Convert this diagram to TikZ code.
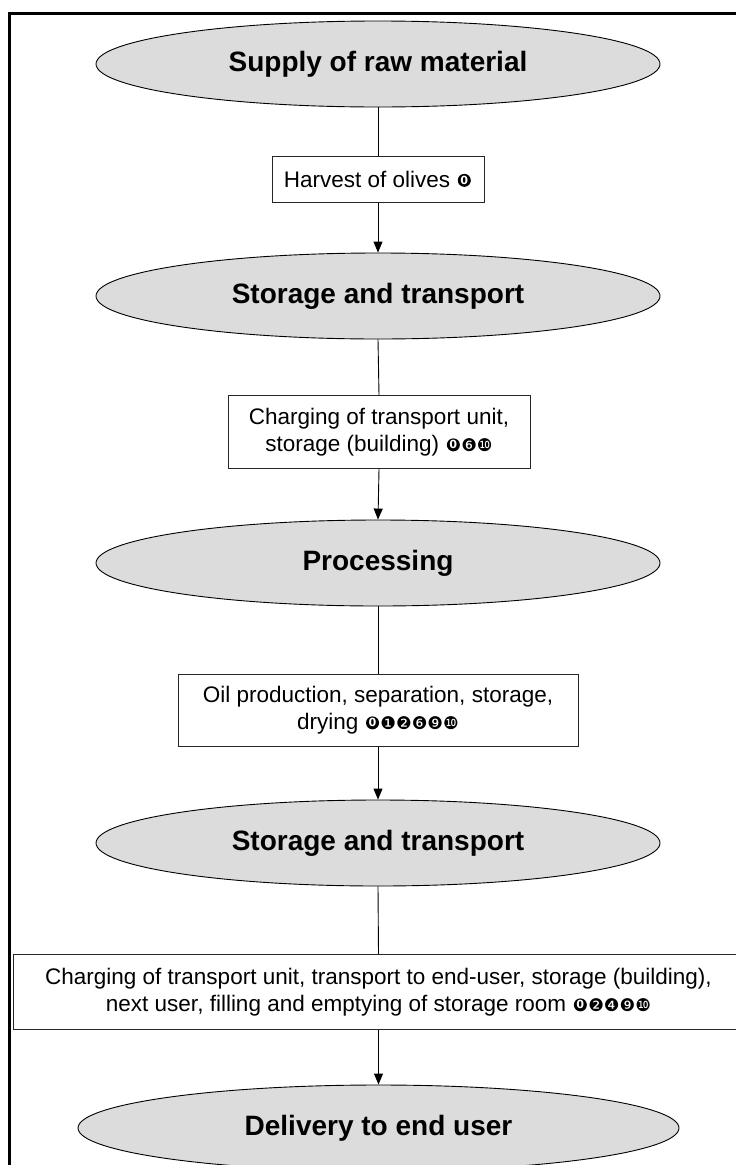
\documentclass[tikz,border=0pt]{standalone}
\usepackage{fontspec}
\setmainfont{Liberation Sans}
\newfontfamily\dingfont{DejaVu Sans}
\usetikzlibrary{shapes.geometric,arrows.meta}
\definecolor{stagegray}{RGB}{220,220,220}
\newcommand{\nums}[1]{{\dingfont\fontsize{17.5}{17.5}\selectfont #1}}
\newcommand{\numzero}{\kern1.4pt\tikz[baseline=(z.south)]
  \node[circle, fill=black, text=white, inner sep=0pt, minimum size=13pt,
    font=\dingfont\bfseries\fontsize{11.2}{11.2}\selectfont] (z) {0};\kern1.4pt}

\begin{document}
\begin{tikzpicture}[x=1pt,y=-1pt,
    stage/.style={ellipse, draw, fill=stagegray, line width=0.9pt, inner sep=0pt,
      minimum width=564pt, minimum height=86pt,
      font=\bfseries\fontsize{28}{32}\selectfont},
    task/.style={rectangle, draw=black!85, fill=white, line width=1pt, align=center,
      inner sep=0pt, font=\fontsize{22.5}{27.5}\selectfont},
    link/.style={line width=0.9pt},
    flow/.style={line width=0.9pt, -{Triangle[length=11pt,width=9pt]}}]
  \clip (0,0) rectangle (736,1165);
  \draw[line width=2.7pt] (9.5,1200) |- (760,13.7);
  \node[stage] (supply) at (378,64) {Supply of raw material};
  \node[task, minimum width=212pt, minimum height=46pt] (harvest) at (378,179) {Harvest of olives \numzero};
  \node[stage] (store1) at (378,296) {Storage and transport};
  \node[task, minimum width=302pt, minimum height=73pt] (charge1) at (379,432)
    {Charging of transport unit,\\ storage (building) \numzero\nums{❻❿}};
  \node[stage] (process) at (378,563) {Processing};
  \node[task, minimum width=400pt, minimum height=72pt] (oil) at (378,710)
    {Oil production, separation, storage,\\ drying \numzero\nums{❶❷❻❾❿}};
  \node[stage] (store2) at (378,843) {Storage and transport};
  \node[task, minimum width=731pt, minimum height=75pt] (charge2) at (378.5,992)
    {Charging of transport unit, transport to end-user, storage (building),\\ next user, filling and emptying of storage room \numzero\nums{❷❹❾❿}};
  \node[stage, minimum width=601pt] (deliver) at (378.5,1128) {Delivery to end user};
  \draw[link] (supply.south) -- (harvest.north);
  \draw[flow] (harvest.south) -- (store1.north);
  \draw[link] (store1.south) -- (charge1.north);
  \draw[flow] (charge1.south) -- (process.north);
  \draw[link] (process.south) -- (oil.north);
  \draw[flow] (oil.south) -- (store2.north);
  \draw[link] (store2.south) -- (charge2.north);
  \draw[flow] (charge2.south) -- (deliver.north);
\end{tikzpicture}
\end{document}
